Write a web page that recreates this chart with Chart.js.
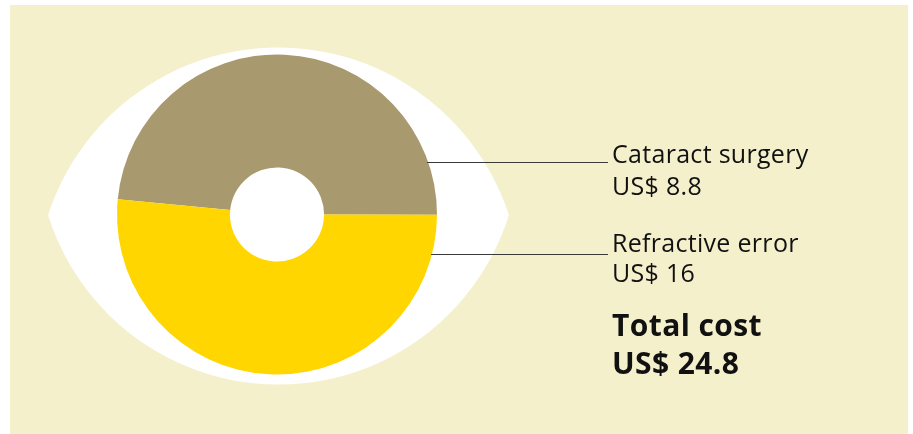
<!DOCTYPE html>
<html>
<head>
<meta charset="utf-8">
<script src="https://cdn.jsdelivr.net/npm/chart.js@4.4.1/dist/chart.umd.min.js"></script>
<style>
  html, body { margin: 0; padding: 0; background: #ffffff; }
  #wrap { position: relative; width: 913px; height: 434px; overflow: hidden; }
  #bg { position: absolute; left: 10px; top: 5px; width: 898px; height: 429px; background: #f5f0cc; }
  canvas { position: absolute; left: 0; top: 0; }
  .lbl { position: absolute; left: 612px; font-family: 'Open Sans', sans-serif; color: #111; white-space: nowrap; }
  .lbl.small { font-size: 25px; letter-spacing: 0.3px; }
  .lbl.total { font-size: 30px; line-height: 38px; font-weight: 700; letter-spacing: 0.4px; }
</style>
</head>
<body>
<div id="wrap">
  <div id="bg"></div>
  <canvas id="c" width="913" height="434"></canvas>
  <div id="l0" class="lbl small" style="top:137px; line-height:32px"></div>
  <div id="l1" class="lbl small" style="top:227px; line-height:30px"></div>
  <div id="lt" class="lbl total" style="top:306px"></div>
</div>
<script>
// ---- data ----
const categories = ['Cataract surgery', 'Refractive error'];
const costs = [8.8, 16];               // US$ values printed beside the eye
const sliceShares = [48.5, 51.5];      // share of the ring each slice covers in the reference picture (%)
const totalLabel = 'Total cost';
const currency = 'US$';
const colors = ['#a8996e', '#ffd600'];

// ---- labels (real text) ----
const fmt = v => currency + ' ' + (Math.round(v * 10) / 10);
document.getElementById('l0').innerHTML = categories[0] + '<br>' + fmt(costs[0]);
document.getElementById('l1').innerHTML = categories[1] + '<br>' + fmt(costs[1]);
document.getElementById('lt').innerHTML = totalLabel + '<br>' + fmt(costs.reduce((a, b) => a + b, 0));

// ---- eye + leader lines plugin ----
const eyePlugin = {
  id: 'eye',
  beforeDatasetsDraw(chart) {
    const arc = chart.getDatasetMeta(0).data[0];
    const cx = arc.x + 1.5, cy = arc.y + 0.5, r = arc.outerRadius;
    const w = 1.44 * r, sTop = 1.047 * r, sBot = 1.06 * r;
    const Rt = (w * w + sTop * sTop) / (2 * sTop);
    const Rb = (w * w + sBot * sBot) / (2 * sBot);
    const cyt = cy - sTop + Rt, cyb = cy + sBot - Rb;
    const ctx = chart.ctx;
    ctx.save();
    ctx.beginPath();
    ctx.arc(cx, cyt, Rt, Math.atan2(cy - cyt, -w), Math.atan2(cy - cyt, w), false);
    ctx.arc(cx, cyb, Rb, Math.atan2(cy - cyb, w), Math.atan2(cy - cyb, -w), false);
    ctx.closePath();
    ctx.fillStyle = '#ffffff';
    ctx.fill();
    ctx.restore();
  },
  afterDatasetsDraw(chart, args, opts) {
    const arc = chart.getDatasetMeta(0).data[0];
    const cx = arc.x, cy = arc.y, r = arc.outerRadius;
    const ctx = chart.ctx;
    ctx.save();
    ctx.strokeStyle = '#3a3a3a';
    ctx.lineWidth = 1;
    opts.offsets.forEach(dy => {
      const y = Math.round(cy + dy) + 0.5;
      const x0 = cx + Math.sqrt(r * r - dy * dy) - 1;
      ctx.beginPath();
      ctx.moveTo(x0, y);
      ctx.lineTo(opts.endX, y);
      ctx.stroke();
    });
    ctx.restore();
  }
};

new Chart(document.getElementById('c'), {
  type: 'doughnut',
  data: {
    labels: categories,
    datasets: [{
      data: sliceShares,
      backgroundColor: colors,
      borderWidth: 0,
      hoverOffset: 0
    }]
  },
  options: {
    responsive: false,
    animation: false,
    events: [],
    rotation: 275.5,
    cutout: '29.4%',
    layout: { padding: { left: 117, right: 476, top: 54.5, bottom: 59.5 } },
    plugins: {
      legend: { display: false },
      tooltip: { enabled: false },
      eye: { offsets: [-53, 39.5], endX: 608 }
    }
  },
  plugins: [eyePlugin]
});
</script>
</body>
</html>
